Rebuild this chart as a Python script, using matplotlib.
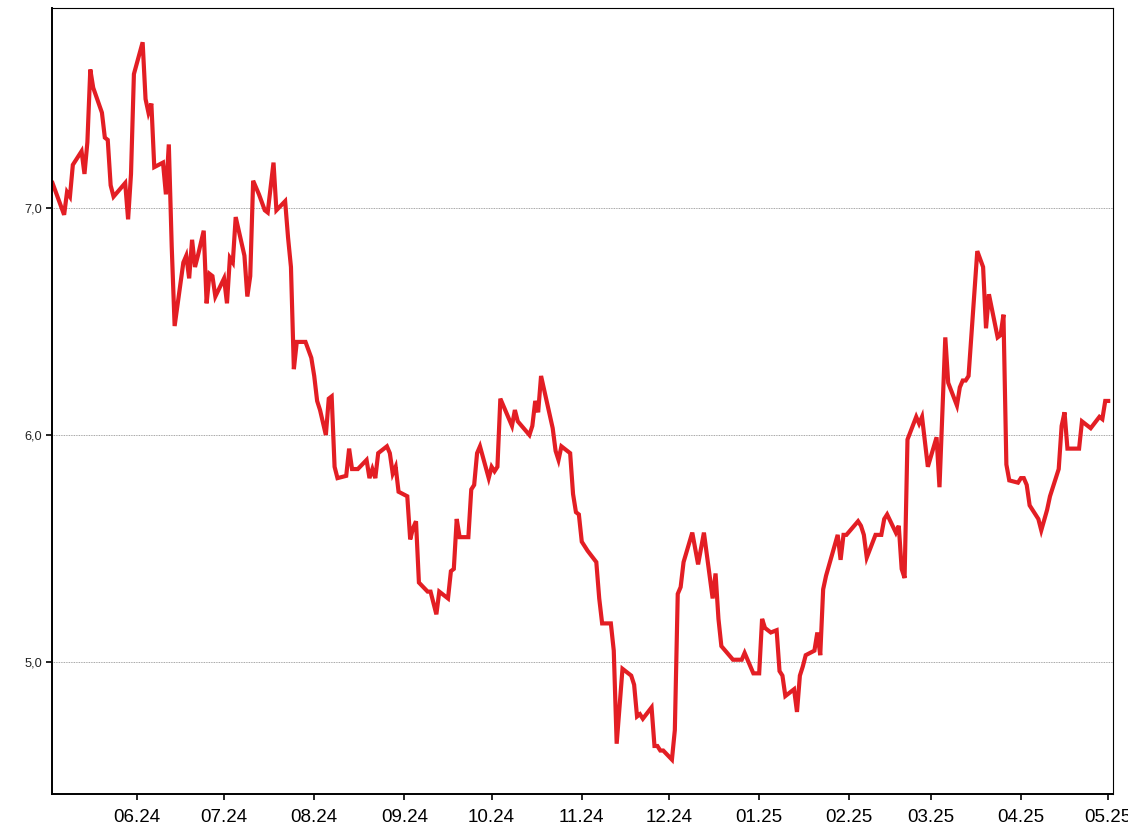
import matplotlib
matplotlib.use('Agg')
import matplotlib.pyplot as plt
import matplotlib.dates as mdates
from matplotlib.ticker import FuncFormatter
import numpy as np

plt.rcParams['font.family'] = ['Liberation Sans', 'DejaVu Sans']

# Data
dates = [
    '2024-05-03', '2024-05-07', '2024-05-08', '2024-05-09', '2024-05-10', '2024-05-13', '2024-05-14',
    '2024-05-15', '2024-05-16', '2024-05-17', '2024-05-20', '2024-05-21', '2024-05-22', '2024-05-23',
    '2024-05-24', '2024-05-28', '2024-05-29', '2024-05-30', '2024-05-31', '2024-06-03', '2024-06-04',
    '2024-06-05', '2024-06-06', '2024-06-07', '2024-06-10', '2024-06-11', '2024-06-12', '2024-06-13',
    '2024-06-14', '2024-06-17', '2024-06-18', '2024-06-19', '2024-06-20', '2024-06-21', '2024-06-22',
    '2024-06-24', '2024-06-25', '2024-06-26', '2024-06-27', '2024-06-28', '2024-07-01', '2024-07-02',
    '2024-07-03', '2024-07-04', '2024-07-05', '2024-07-08', '2024-07-09', '2024-07-10', '2024-07-11',
    '2024-07-13', '2024-07-15', '2024-07-16', '2024-07-18', '2024-07-19', '2024-07-22', '2024-07-23',
    '2024-07-24', '2024-07-25', '2024-07-26', '2024-07-29', '2024-07-31', '2024-08-01', '2024-08-02',
    '2024-08-03', '2024-08-05', '2024-08-06', '2024-08-07', '2024-08-08', '2024-08-09', '2024-08-12',
    '2024-08-13', '2024-08-14', '2024-08-16', '2024-08-19', '2024-08-20', '2024-08-21', '2024-08-22',
    '2024-08-23', '2024-08-26', '2024-08-27', '2024-08-28', '2024-08-29', '2024-08-30', '2024-09-02',
    '2024-09-03', '2024-09-04', '2024-09-05', '2024-09-06', '2024-09-09', '2024-09-10', '2024-09-12',
    '2024-09-13', '2024-09-16', '2024-09-17', '2024-09-18', '2024-09-19', '2024-09-20', '2024-09-23',
    '2024-09-24', '2024-09-25', '2024-09-26', '2024-09-27', '2024-09-30', '2024-10-01', '2024-10-02',
    '2024-10-03', '2024-10-04', '2024-10-08', '2024-10-09', '2024-10-10', '2024-10-14', '2024-10-15',
    '2024-10-16', '2024-10-17', '2024-10-18', '2024-10-22', '2024-10-23', '2024-10-24', '2024-10-25',
    '2024-10-28', '2024-10-29', '2024-10-30', '2024-10-31', '2024-11-01', '2024-11-03', '2024-11-06',
    '2024-11-07', '2024-11-08', '2024-11-11', '2024-11-12', '2024-11-13', '2024-11-15', '2024-11-18',
    '2024-11-19', '2024-11-20', '2024-11-21', '2024-11-22', '2024-11-25', '2024-11-26', '2024-11-27',
    '2024-11-28', '2024-11-29', '2024-12-02', '2024-12-03', '2024-12-04', '2024-12-05', '2024-12-06',
    '2024-12-09', '2024-12-10', '2024-12-11', '2024-12-13', '2024-12-16', '2024-12-17', '2024-12-18',
    '2024-12-19', '2024-12-23', '2024-12-26', '2024-12-27', '2024-12-30', '2025-01-01', '2025-01-02',
    '2025-01-03', '2025-01-05', '2025-01-07', '2025-01-08', '2025-01-09', '2025-01-10', '2025-01-13',
    '2025-01-14', '2025-01-15', '2025-01-16', '2025-01-17', '2025-01-20', '2025-01-21', '2025-01-22',
    '2025-01-23', '2025-01-24', '2025-01-28', '2025-01-29', '2025-01-30', '2025-01-31', '2025-02-04',
    '2025-02-05', '2025-02-06', '2025-02-07', '2025-02-10', '2025-02-12', '2025-02-13', '2025-02-14',
    '2025-02-17', '2025-02-18', '2025-02-19', '2025-02-20', '2025-02-21', '2025-02-24', '2025-02-25',
    '2025-02-26', '2025-02-28', '2025-03-03', '2025-03-04', '2025-03-06', '2025-03-07', '2025-03-10',
    '2025-03-11', '2025-03-12', '2025-03-13', '2025-03-14', '2025-03-17', '2025-03-19', '2025-03-20',
    '2025-03-21', '2025-03-24', '2025-03-25', '2025-03-26', '2025-03-27', '2025-03-28', '2025-03-31',
    '2025-04-01', '2025-04-02', '2025-04-03', '2025-04-04', '2025-04-07', '2025-04-08', '2025-04-10',
    '2025-04-11', '2025-04-14', '2025-04-15', '2025-04-16', '2025-04-17', '2025-04-21', '2025-04-22',
    '2025-04-25', '2025-04-28', '2025-04-29', '2025-04-30', '2025-05-01',
]
values = [
    7.11, 6.97, 7.07, 7.05, 7.19, 7.25, 7.15,
    7.29, 7.61, 7.53, 7.42, 7.31, 7.30, 7.10,
    7.05, 7.11, 6.95, 7.15, 7.59, 7.73, 7.48,
    7.42, 7.46, 7.18, 7.20, 7.06, 7.28, 6.83,
    6.48, 6.76, 6.79, 6.69, 6.86, 6.74, 6.79,
    6.90, 6.58, 6.71, 6.70, 6.61, 6.69, 6.58,
    6.78, 6.76, 6.96, 6.79, 6.61, 6.70, 7.12,
    7.06, 6.99, 6.98, 7.20, 6.99, 7.03, 6.87,
    6.74, 6.29, 6.41, 6.41, 6.34, 6.26, 6.15,
    6.11, 6.00, 6.16, 6.17, 5.86, 5.81, 5.82,
    5.94, 5.85, 5.85, 5.89, 5.81, 5.85, 5.81,
    5.92, 5.95, 5.92, 5.83, 5.86, 5.75, 5.73,
    5.54, 5.59, 5.62, 5.35, 5.31, 5.31, 5.21,
    5.31, 5.28, 5.40, 5.41, 5.63, 5.55, 5.55,
    5.76, 5.78, 5.92, 5.95, 5.81, 5.86, 5.84,
    5.86, 6.16, 6.04, 6.11, 6.06, 6.00, 6.04,
    6.15, 6.10, 6.26, 6.03, 5.93, 5.89, 5.95,
    5.92, 5.74, 5.66, 5.65, 5.53, 5.49, 5.44,
    5.28, 5.17, 5.17, 5.05, 4.64, 4.97, 4.94,
    4.90, 4.76, 4.77, 4.75, 4.80, 4.63, 4.63,
    4.61, 4.61, 4.57, 4.70, 5.30, 5.33, 5.44,
    5.57, 5.50, 5.43, 5.57, 5.28, 5.39, 5.19,
    5.07, 5.01, 5.01, 5.04, 4.95, 4.95, 5.19,
    5.15, 5.13, 5.14, 4.96, 4.94, 4.85, 4.88,
    4.78, 4.94, 4.98, 5.03, 5.05, 5.13, 5.03,
    5.32, 5.38, 5.56, 5.45, 5.56, 5.56, 5.62,
    5.60, 5.56, 5.46, 5.56, 5.56, 5.63, 5.65,
    5.57, 5.60, 5.41, 5.37, 5.98, 6.08, 6.05,
    6.08, 5.86, 5.99, 5.77, 6.43, 6.23, 6.13,
    6.21, 6.24, 6.24, 6.26, 6.81, 6.74, 6.47,
    6.62, 6.43, 6.44, 6.53, 5.87, 5.80, 5.79,
    5.81, 5.81, 5.78, 5.69, 5.63, 5.58, 5.67,
    5.73, 5.85, 6.04, 6.10, 5.94, 5.94, 6.06,
    6.03, 6.08, 6.07, 6.15, 6.15,
]
y_ticks = [5.0, 6.0, 7.0]

x = np.array(dates, dtype='datetime64[D]')

fig = plt.figure(figsize=(11.28, 8.36), dpi=100)
ax = fig.add_axes([52 / 1128, 1 - 794 / 836, (1113 - 52) / 1128, (794 - 8) / 836])

ax.plot(x, values, color='#e31e24', linewidth=3.0, solid_joinstyle='miter')

ax.set_xlim(np.datetime64('2024-05-02T20:00'), np.datetime64('2025-05-02T16:00'))
ax.set_ylim(4.4185, 7.881)

ax.xaxis.set_major_locator(mdates.MonthLocator())
ax.xaxis.set_major_formatter(mdates.DateFormatter('%m.%y'))
ax.set_yticks(y_ticks)
ax.yaxis.set_major_formatter(FuncFormatter(lambda v, p: f'{v:.1f}'.replace('.', ',')))

# dotted horizontal gridlines only
ax.grid(axis='y', color='#888888', linestyle=(0, (1, 1)), linewidth=0.6)
ax.set_axisbelow(True)

ax.tick_params(axis='x', labelsize=13.5, length=4, width=1.2, pad=6.5, direction='out')
ax.tick_params(axis='y', labelsize=9.2, length=4, width=1.2, pad=3, direction='out',
               labelcolor='#222222')

for side in ['left', 'bottom']:
    ax.spines[side].set_linewidth(1.4)
for side in ['top', 'right']:
    ax.spines[side].set_linewidth(0.8)

fig.savefig('out.png', dpi=100)
